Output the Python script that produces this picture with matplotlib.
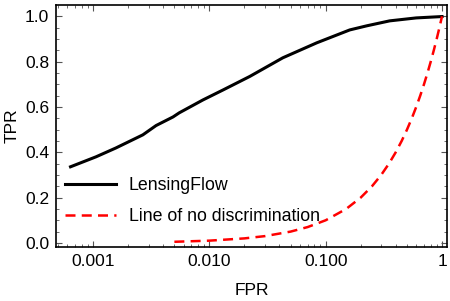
import matplotlib
matplotlib.use("Agg")
import matplotlib.pyplot as plt
from matplotlib.ticker import FixedLocator, FixedFormatter, LogLocator, NullFormatter

# ROC curve
fpr_flow = [0.00064, 0.00106, 0.00157, 0.00268, 0.00348, 0.00487, 0.0055, 0.0088, 0.0131,
            0.0223, 0.0428, 0.0837, 0.161, 0.225, 0.355, 0.6, 1.0]
tpr_flow = [0.336, 0.38, 0.419, 0.477, 0.518, 0.556, 0.574, 0.631, 0.675,
            0.735, 0.817, 0.883, 0.94, 0.958, 0.98, 0.993, 0.999]

# chance line (TPR = FPR)
fpr_diag = [0.005, 0.01, 0.02, 0.03, 0.05, 0.07, 0.1, 0.15, 0.2, 0.25, 0.3, 0.35, 0.4,
            0.45, 0.5, 0.55, 0.6, 0.65, 0.7, 0.75, 0.8, 0.85, 0.9, 0.95, 1.0]
tpr_diag = fpr_diag

xticks = [0.001, 0.01, 0.1, 1]
xtick_labels = ["0.001", "0.010", "0.100", "1"]
yticks = [0.0, 0.2, 0.4, 0.6, 0.8, 1.0]

plt.rcParams['font.family'] = ['Liberation Sans', 'DejaVu Sans']
plt.rcParams['font.size'] = 12

fig = plt.figure(figsize=(4.5, 3.01), dpi=100)
ax = fig.add_axes([56/450, 1 - 247/301, 391/450, 242/301])

ax.plot(fpr_flow, tpr_flow, color='black', lw=2.2, label='LensingFlow')
ax.plot(fpr_diag, tpr_diag, color='red', lw=1.8, ls=(0, (4, 2.5)),
        label='Line of no discrimination')

ax.set_xscale('log')
ax.set_xlim(0.00048, 1.104)
ax.set_ylim(-0.018, 1.05)

ax.xaxis.set_major_locator(FixedLocator(xticks))
ax.xaxis.set_major_formatter(FixedFormatter(xtick_labels))
ax.xaxis.set_minor_locator(LogLocator(base=10, subs=range(2, 10), numticks=20))
ax.xaxis.set_minor_formatter(NullFormatter())
ax.set_yticks(yticks)
ax.set_yticklabels([f"{v:.1f}" for v in yticks])
ax.yaxis.set_minor_locator(FixedLocator([i * 0.05 for i in range(21)]))

ax.tick_params(which='both', direction='in', top=True, right=True, color='#555555')
ax.tick_params(which='major', length=4, width=0.8, labelsize=12.5, pad=5)
ax.tick_params(which='minor', length=2, width=0.6)
for s in ax.spines.values():
    s.set_linewidth(1.2)

ax.set_xlabel("FPR", fontsize=12.5, labelpad=10)
ax.set_ylabel("TPR", fontsize=12.5, labelpad=4)

ax.legend(loc='upper left', bbox_to_anchor=(-0.018, 0.355), frameon=False,
          fontsize=12.8, handlelength=2.85, handletextpad=0.75, labelspacing=0.8)

fig.savefig("out.png", dpi=100)
